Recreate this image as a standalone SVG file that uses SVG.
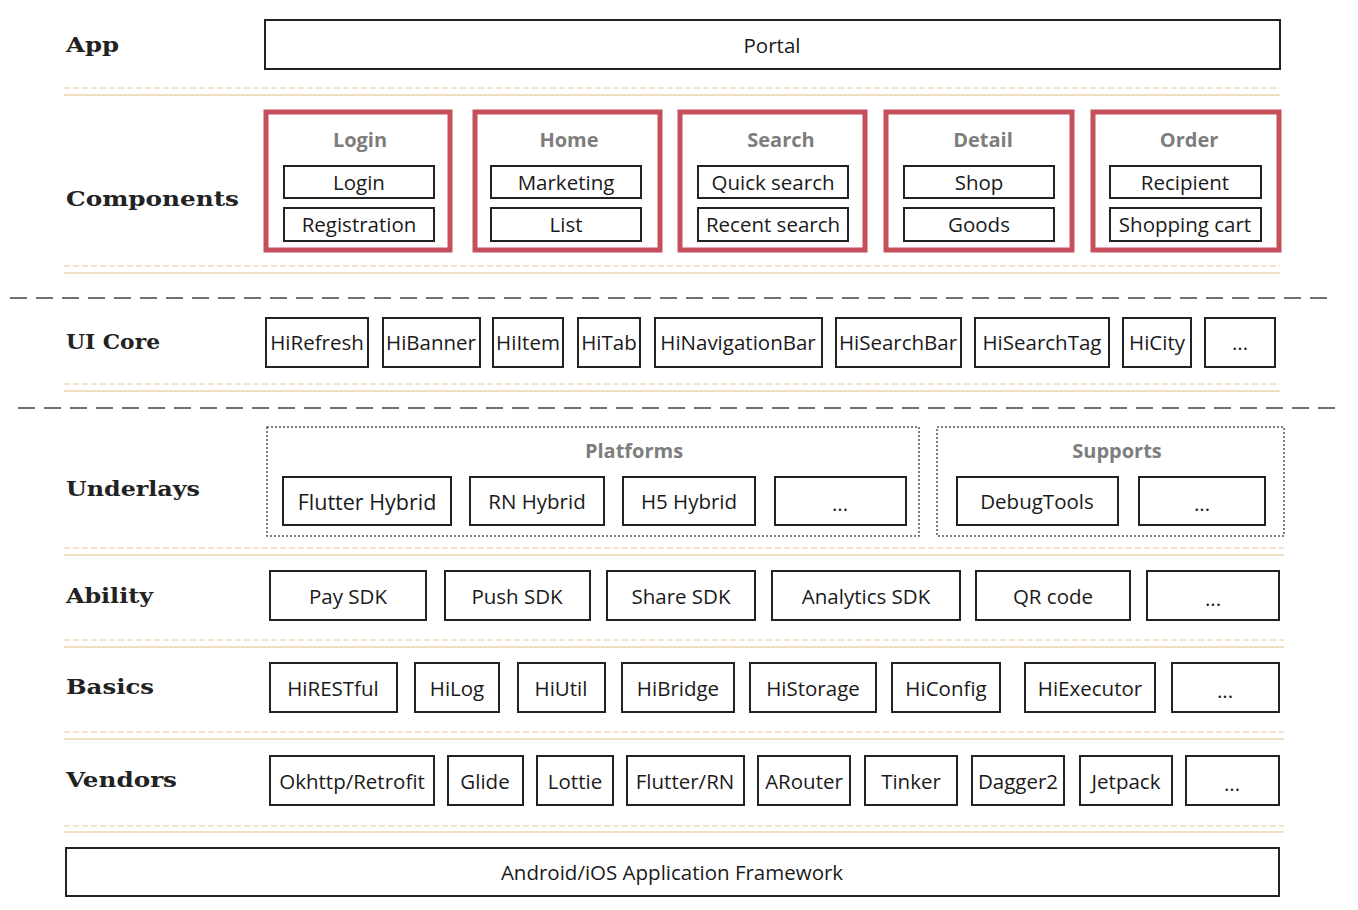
<svg xmlns="http://www.w3.org/2000/svg" width="1358" height="910" viewBox="0 0 1358 910">
<style>
.bg{fill:#ffffff}
.lbl{font-family:"DejaVu Serif","Liberation Serif",serif;font-weight:bold;font-size:21px;fill:#222}
.box{fill:#fff;stroke:#222;stroke-width:2}
.t{font-family:"Open Sans","Noto Sans","Liberation Sans",sans-serif;font-size:20.5px;fill:#1a1a1a;text-anchor:middle;dominant-baseline:central}
.big{font-size:21.5px}
.grp{fill:#fff;stroke:#c64f5c;stroke-width:5}
.gt{font-family:"Open Sans","Noto Sans","Liberation Sans",sans-serif;font-size:20px;font-weight:bold;fill:#7d7d7d;text-anchor:middle;dominant-baseline:central}
.dot{fill:none;stroke:#555;stroke-width:1.5;stroke-dasharray:2 2}
.sd{stroke:#eedcbf;stroke-width:1.5;stroke-dasharray:6 3}
.ss{stroke:#f1dfc4;stroke-width:2}
.gd{stroke:#6f6f6f;stroke-width:2;stroke-dasharray:17 9}
</style>
<rect class="bg" x="0" y="0" width="1358" height="910"/>

<g id="separators">
  <line class="sd" x1="64" y1="88" x2="1280" y2="88"/><line class="ss" x1="64" y1="95" x2="1280" y2="95"/>
  <line class="sd" x1="64" y1="266" x2="1280" y2="266"/><line class="ss" x1="64" y1="273" x2="1280" y2="273"/>
  <line class="gd" x1="10" y1="298" x2="1336" y2="298"/>
  <line class="sd" x1="64" y1="384" x2="1280" y2="384"/><line class="ss" x1="64" y1="391" x2="1280" y2="391"/>
  <line class="gd" x1="18" y1="408" x2="1340" y2="408"/>
  <line class="sd" x1="64" y1="548" x2="1284" y2="548"/><line class="ss" x1="64" y1="555" x2="1284" y2="555"/>
  <line class="sd" x1="64" y1="640" x2="1284" y2="640"/><line class="ss" x1="64" y1="647" x2="1284" y2="647"/>
  <line class="sd" x1="64" y1="732" x2="1284" y2="732"/><line class="ss" x1="64" y1="739" x2="1284" y2="739"/>
  <line class="sd" x1="64" y1="826" x2="1284" y2="826"/><line class="ss" x1="64" y1="832" x2="1284" y2="832"/>
</g>

<g id="layer-labels">
  <text class="lbl" x="66" y="52" textLength="53" lengthAdjust="spacingAndGlyphs">App</text>
  <text class="lbl" x="66" y="206" textLength="173" lengthAdjust="spacingAndGlyphs">Components</text>
  <text class="lbl" x="66" y="349" textLength="94" lengthAdjust="spacingAndGlyphs">UI Core</text>
  <text class="lbl" x="66" y="496" textLength="134" lengthAdjust="spacingAndGlyphs">Underlays</text>
  <text class="lbl" x="66" y="603" textLength="87" lengthAdjust="spacingAndGlyphs">Ability</text>
  <text class="lbl" x="66" y="694" textLength="88" lengthAdjust="spacingAndGlyphs">Basics</text>
  <text class="lbl" x="66" y="787" textLength="111" lengthAdjust="spacingAndGlyphs">Vendors</text>
</g>

<g id="portal"><rect class="box" x="265" y="20" width="1015" height="49"/><text class="t" x="772" y="45">Portal</text></g>

<g id="comp-login">
  <rect class="grp" x="266" y="112" width="184" height="138"/>
  <text class="gt" x="360" y="139">Login</text>
  <rect class="box" x="284" y="166" width="150" height="32"/><text class="t" x="359" y="182">Login</text>
  <rect class="box" x="284" y="208" width="150" height="33"/><text class="t" x="359" y="224">Registration</text>
</g>
<g id="comp-home">
  <rect class="grp" x="475" y="112" width="185" height="138"/>
  <text class="gt" x="569" y="139">Home</text>
  <rect class="box" x="491" y="166" width="150" height="32"/><text class="t" x="566" y="182">Marketing</text>
  <rect class="box" x="491" y="208" width="150" height="33"/><text class="t" x="566" y="224">List</text>
</g>
<g id="comp-search">
  <rect class="grp" x="680" y="112" width="185" height="138"/>
  <text class="gt" x="781" y="139">Search</text>
  <rect class="box" x="698" y="166" width="150" height="32"/><text class="t" x="773" y="182">Quick search</text>
  <rect class="box" x="698" y="208" width="150" height="33"/><text class="t" x="773" y="224">Recent search</text>
</g>
<g id="comp-detail">
  <rect class="grp" x="886" y="112" width="186" height="138"/>
  <text class="gt" x="983" y="139">Detail</text>
  <rect class="box" x="904" y="166" width="150" height="32"/><text class="t" x="979" y="182">Shop</text>
  <rect class="box" x="904" y="208" width="150" height="33"/><text class="t" x="979" y="224">Goods</text>
</g>
<g id="comp-order">
  <rect class="grp" x="1093" y="112" width="186" height="138"/>
  <text class="gt" x="1189" y="139">Order</text>
  <rect class="box" x="1110" y="166" width="151" height="32"/><text class="t" x="1185" y="182">Recipient</text>
  <rect class="box" x="1110" y="208" width="151" height="33"/><text class="t" x="1185" y="224">Shopping cart</text>
</g>

<g id="uicore">
  <g id="hirefresh"><rect class="box" x="266" y="318" width="102" height="49"/><text class="t" x="317" y="342">HiRefresh</text></g>
  <g id="hibanner"><rect class="box" x="383" y="318" width="97" height="49"/><text class="t" x="431" y="342">HiBanner</text></g>
  <g id="hiitem"><rect class="box" x="493" y="318" width="70" height="49"/><text class="t" x="528" y="342">HiItem</text></g>
  <g id="hitab"><rect class="box" x="578" y="318" width="62" height="49"/><text class="t" x="609" y="342">HiTab</text></g>
  <g id="hinavigationbar"><rect class="box" x="655" y="318" width="167" height="49"/><text class="t" x="738" y="342">HiNavigationBar</text></g>
  <g id="hisearchbar"><rect class="box" x="836" y="318" width="125" height="49"/><text class="t" x="898" y="342">HiSearchBar</text></g>
  <g id="hisearchtag"><rect class="box" x="975" y="318" width="134" height="49"/><text class="t" x="1042" y="342">HiSearchTag</text></g>
  <g id="hicity"><rect class="box" x="1123" y="318" width="68" height="49"/><text class="t" x="1157" y="342">HiCity</text></g>
  <g id="uicore-more"><rect class="box" x="1205" y="318" width="70" height="49"/><text class="t" x="1240" y="342">...</text></g>
</g>

<g id="platforms">
  <rect class="dot" x="267" y="427" width="652" height="109"/>
  <text class="gt" x="634" y="450">Platforms</text>
  <g id="flutter-hybrid"><rect class="box" x="283" y="477" width="168" height="48"/><text class="t big" x="367" y="501">Flutter Hybrid</text></g>
  <g id="rn-hybrid"><rect class="box" x="470" y="477" width="134" height="48"/><text class="t" x="537" y="501">RN Hybrid</text></g>
  <g id="h5-hybrid"><rect class="box" x="623" y="477" width="132" height="48"/><text class="t" x="689" y="501">H5 Hybrid</text></g>
  <g id="platforms-more"><rect class="box" x="775" y="477" width="131" height="48"/><text class="t" x="840" y="503">...</text></g>
</g>
<g id="supports">
  <rect class="dot" x="937" y="427" width="347" height="109"/>
  <text class="gt" x="1117" y="450">Supports</text>
  <g id="debugtools"><rect class="box" x="957" y="477" width="161" height="48"/><text class="t" x="1037" y="501">DebugTools</text></g>
  <g id="supports-more"><rect class="box" x="1139" y="477" width="126" height="48"/><text class="t" x="1202" y="503">...</text></g>
</g>

<g id="ability">
  <g id="pay-sdk"><rect class="box" x="270" y="571" width="156" height="49"/><text class="t" x="348" y="596">Pay SDK</text></g>
  <g id="push-sdk"><rect class="box" x="445" y="571" width="145" height="49"/><text class="t" x="517" y="596">Push SDK</text></g>
  <g id="share-sdk"><rect class="box" x="607" y="571" width="148" height="49"/><text class="t" x="681" y="596">Share SDK</text></g>
  <g id="analytics-sdk"><rect class="box" x="772" y="571" width="188" height="49"/><text class="t" x="866" y="596">Analytics SDK</text></g>
  <g id="qr-code"><rect class="box" x="976" y="571" width="154" height="49"/><text class="t" x="1053" y="596">QR code</text></g>
  <g id="ability-more"><rect class="box" x="1147" y="571" width="132" height="49"/><text class="t" x="1213" y="598">...</text></g>
</g>

<g id="basics">
  <g id="hirestful"><rect class="box" x="270" y="663" width="127" height="49"/><text class="t" x="333" y="688">HiRESTful</text></g>
  <g id="hilog"><rect class="box" x="415" y="663" width="84" height="49"/><text class="t" x="457" y="688">HiLog</text></g>
  <g id="hiutil"><rect class="box" x="518" y="663" width="87" height="49"/><text class="t" x="561" y="688">HiUtil</text></g>
  <g id="hibridge"><rect class="box" x="622" y="663" width="112" height="49"/><text class="t" x="678" y="688">HiBridge</text></g>
  <g id="historage"><rect class="box" x="750" y="663" width="126" height="49"/><text class="t" x="813" y="688">HiStorage</text></g>
  <g id="hiconfig"><rect class="box" x="892" y="663" width="108" height="49"/><text class="t" x="946" y="688">HiConfig</text></g>
  <g id="hiexecutor"><rect class="box" x="1025" y="663" width="130" height="49"/><text class="t" x="1090" y="688">HiExecutor</text></g>
  <g id="basics-more"><rect class="box" x="1172" y="663" width="107" height="49"/><text class="t" x="1225" y="690">...</text></g>
</g>

<g id="vendors">
  <g id="okhttp"><rect class="box" x="270" y="756" width="164" height="49"/><text class="t" x="352" y="781">Okhttp/Retrofit</text></g>
  <g id="glide"><rect class="box" x="448" y="756" width="75" height="49"/><text class="t" x="485" y="781">Glide</text></g>
  <g id="lottie"><rect class="box" x="537" y="756" width="76" height="49"/><text class="t" x="575" y="781">Lottie</text></g>
  <g id="flutter-rn"><rect class="box" x="627" y="756" width="117" height="49"/><text class="t" x="685" y="781">Flutter/RN</text></g>
  <g id="arouter"><rect class="box" x="758" y="756" width="92" height="49"/><text class="t" x="804" y="781">ARouter</text></g>
  <g id="tinker"><rect class="box" x="865" y="756" width="92" height="49"/><text class="t" x="911" y="781">Tinker</text></g>
  <g id="dagger2"><rect class="box" x="972" y="756" width="92" height="49"/><text class="t" x="1018" y="781">Dagger2</text></g>
  <g id="jetpack"><rect class="box" x="1080" y="756" width="92" height="49"/><text class="t" x="1126" y="781">Jetpack</text></g>
  <g id="vendors-more"><rect class="box" x="1186" y="756" width="93" height="49"/><text class="t" x="1232" y="783">...</text></g>
</g>

<g id="framework"><rect class="box" x="66" y="848" width="1213" height="48"/><text class="t" x="672" y="872">Android/iOS Application Framework</text></g>

<g id="connectors"></g>
</svg>
